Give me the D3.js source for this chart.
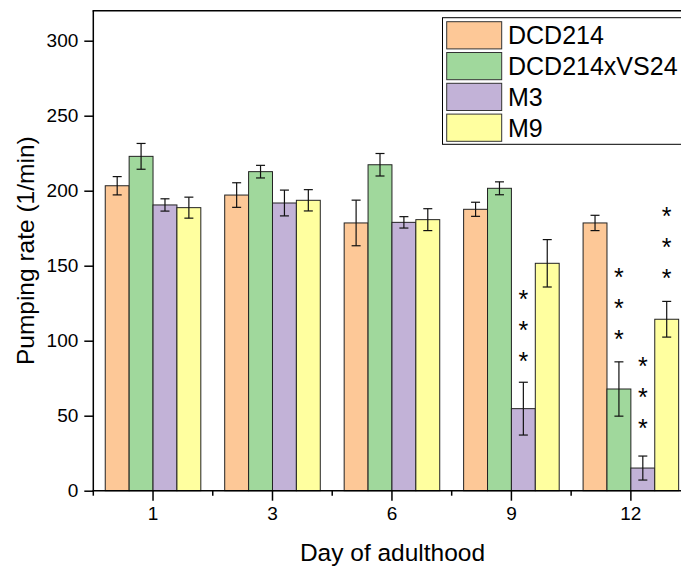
<!DOCTYPE html>
<html>
<head>
<meta charset="utf-8">
<script src="https://cdn.jsdelivr.net/npm/d3@7"></script>
<style>
  html, body { margin: 0; padding: 0; background: #fff; }
  svg { display: block; font-family: Arial, "Liberation Sans", sans-serif; }
</style>
</head>
<body>
<svg id="chart" width="681" height="567"></svg>
<script>
// ---- data ----
const days = ["1", "3", "6", "9", "12"];
const seriesNames = ["DCD214", "DCD214xVS24", "M3", "M9"];
const dcd214     = [203.3, 197.1, 178.5, 187.6, 178.5];
const dcd214Err  = [6.1, 8.2, 15.2, 4.7, 5.1];
const vs24       = [222.9, 212.7, 217.3, 201.6, 67.8];
const vs24Err    = [8.6, 4.2, 7.5, 4.3, 18.1];
const m3         = [190.5, 191.8, 178.9, 54.7, 15.1];
const m3Err      = [4.1, 8.6, 3.8, 17.6, 8.0];
const m9         = [188.7, 193.6, 180.7, 151.6, 114.3];
const m9Err      = [7.0, 7.1, 7.3, 15.8, 11.9];
const yTicks     = [0, 50, 100, 150, 200, 250, 300];
// significance marks: lowest star position (data units), 3 stars each
const starDay    = ["9", "12", "12", "12"];
const starSeries = ["M3", "DCD214xVS24", "M3", "M9"];
const starBase   = [90, 104.7, 45.3, 145.3];
const starCount  = [3, 3, 3, 3];

const colors = ["#FDC897", "#A0D89C", "#C2B2D7", "#FFFF9F"];
const values = [dcd214, vs24, m3, m9];
const errors = [dcd214Err, vs24Err, m3Err, m9Err];

(function () {
// ---- layout ----
const svg = d3.select("#chart");
const pLeft = 93.3, pRight = 690.6, pTop = 10.7, pBottom = 490.7;

const x = d3.scaleBand().domain(days).range([pLeft, pRight]).paddingInner(0).paddingOuter(0);
const xs = d3.scaleBand().domain(seriesNames).range([-x.bandwidth() * 0.4, x.bandwidth() * 0.4]);
const y = d3.scaleLinear().domain([0, 320]).range([pBottom, pTop]);

// bars
const g = svg.append("g");
seriesNames.forEach((s, si) => {
  days.forEach((d, di) => {
    const cx = x(d) + x.bandwidth() / 2;
    const bx = cx + xs(s);
    const v = values[si][di];
    g.append("rect")
      .attr("x", bx).attr("y", y(v))
      .attr("width", xs.bandwidth()).attr("height", y(0) - y(v))
      .attr("fill", colors[si]).attr("stroke", "#222").attr("stroke-width", 1);
  });
});
// error bars
seriesNames.forEach((s, si) => {
  days.forEach((d, di) => {
    const mx = x(d) + x.bandwidth() / 2 + xs(s) + xs.bandwidth() / 2;
    const v = values[si][di], e = errors[si][di];
    const eg = g.append("g").attr("stroke", "#111").attr("stroke-width", 1.2);
    eg.append("line").attr("x1", mx).attr("x2", mx).attr("y1", y(v + e)).attr("y2", y(v - e));
    eg.append("line").attr("x1", mx - 4.5).attr("x2", mx + 4.5).attr("y1", y(v + e)).attr("y2", y(v + e));
    eg.append("line").attr("x1", mx - 4.5).attr("x2", mx + 4.5).attr("y1", y(v - e)).attr("y2", y(v - e));
  });
});

// stars
starDay.forEach((d, i) => {
  const mx = x(d) + x.bandwidth() / 2 + xs(starSeries[i]) + xs.bandwidth() / 2;
  for (let k = 0; k < starCount[i]; k++) {
    const cy = y(starBase[i]) - k * 31;
    svg.append("text").attr("x", mx).attr("y", cy + 14.5)
      .attr("text-anchor", "middle").attr("font-size", 25).attr("fill", "#000").text("*");
  }
});

// axes
const yAxis = d3.axisLeft(y).tickValues(yTicks).tickSize(9).tickPadding(6);
const ya = svg.append("g").attr("transform", `translate(${pLeft},0)`).call(yAxis);
ya.select(".domain").remove();
ya.selectAll("line").attr("stroke", "#000").attr("stroke-width", 1.5);
ya.selectAll("text").attr("font-size", 19).attr("fill", "#000").attr("font-family", "Arial, 'Liberation Sans', sans-serif");

const xAxis = d3.axisBottom(x).tickSize(10).tickPadding(6);
const xa = svg.append("g").attr("transform", `translate(0,${pBottom})`).call(xAxis);
xa.select(".domain").remove();
xa.selectAll("line").attr("stroke", "#000").attr("stroke-width", 1.5);
xa.selectAll("text").attr("font-size", 19).attr("fill", "#000").attr("font-family", "Arial, 'Liberation Sans', sans-serif");
// minor ticks at band boundaries
days.forEach(d => {
  const bx = x(d);
  svg.append("line").attr("x1", bx).attr("x2", bx).attr("y1", pBottom).attr("y2", pBottom + 5)
    .attr("stroke", "#000").attr("stroke-width", 1.5);
});

// frame (left, bottom, top)
svg.append("line").attr("x1", pLeft).attr("x2", pLeft).attr("y1", pTop).attr("y2", pBottom)
  .attr("stroke", "#000").attr("stroke-width", 1.5);
svg.append("line").attr("x1", pLeft - 0.75).attr("x2", 700).attr("y1", pBottom).attr("y2", pBottom)
  .attr("stroke", "#000").attr("stroke-width", 1.5);
svg.append("line").attr("x1", pLeft - 0.75).attr("x2", 700).attr("y1", pTop).attr("y2", pTop)
  .attr("stroke", "#000").attr("stroke-width", 1.5);

// axis titles
svg.append("text").attr("x", 392.5).attr("y", 561)
  .attr("text-anchor", "middle").attr("font-size", 24.5).text("Day of adulthood");
svg.append("text").attr("transform", `translate(34,${(pTop + pBottom) / 2}) rotate(-90)`)
  .attr("text-anchor", "middle").attr("font-size", 24.5).text("Pumping rate (1/min)");

// legend
const lg = svg.append("g").attr("transform", "translate(442.5,17.7)");
lg.append("rect").attr("x", 0).attr("y", 0).attr("width", 260).attr("height", 126.6)
  .attr("fill", "#fff").attr("stroke", "#000").attr("stroke-width", 1);
seriesNames.forEach((s, i) => {
  lg.append("rect").attr("x", 4.2).attr("y", 4 + i * 30.8).attr("width", 55).attr("height", 27.2)
    .attr("fill", colors[i]).attr("stroke", "#333").attr("stroke-width", 1);
  lg.append("text").attr("x", 65.5).attr("y", 4 + i * 30.8 + 22.8)
    .attr("font-size", 25).attr("fill", "#000").text(s);
});
})();
</script>
</body>
</html>
